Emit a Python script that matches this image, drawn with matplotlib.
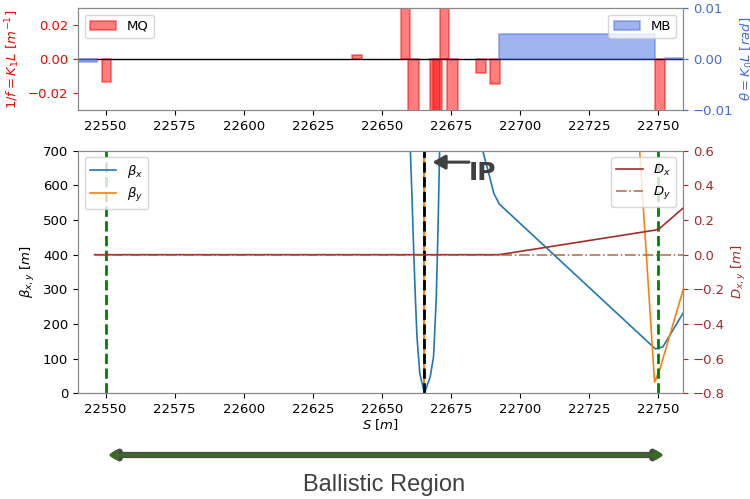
import matplotlib
matplotlib.use('Agg')
import matplotlib.pyplot as plt
from matplotlib.patches import FancyArrowPatch

# quadrupoles: start, length, strength (1/f)
mq_s = [22548.6, 22639.2, 22656.9, 22659.6, 22667.5, 22668.6, 22671.2, 22673.6, 22684.2, 22689.3, 22748.8]
mq_l = [3.4, 3.6, 3.1, 4.0, 3.4, 3.2, 3.1, 3.8, 3.6, 3.6, 3.6]
mq_k = [-0.0134, 0.0025, 0.06, -0.06, -0.06, -0.06, 0.06, -0.06, -0.008, -0.0147, -0.06]

# dipoles: start, length, angle
mb_s = [22540.0, 22692.5, 22752.4]
mb_l = [6.8, 56.3, 6.9]
mb_k = [-0.0006, 0.0049, 0.0001]

# optics
bx_s = [22546.0, 22659.5, 22660.3, 22660.9, 22661.5, 22662.1, 22662.7, 22663.7, 22665.4,
        22667.5, 22668.7, 22669.7, 22670.3, 22670.9, 22678.0, 22686.5, 22688.7, 22690.5,
        22692.5, 22749.0, 22751.7, 22759.3]
bx = [3000, 900, 700, 567, 413, 279, 163, 58, 0,
      48, 106, 279, 471, 700, 1500, 700, 634, 577,
      546, 128, 134, 235]
by_s = [22546.0, 22660.0, 22665.3, 22670.5, 22692.5, 22748.7, 22750.6, 22759.3]
by = [40000, 40000, 0, 40000, 6984, 32, 69, 306]
d_s = [22546.0, 22692.5, 22749.0, 22750.6, 22759.3]
dx = [0.0, 0.0, 0.142, 0.152, 0.273]
dy = [0.0, 0.0, 0.0, 0.0, 0.0]

plt.rcParams['font.size'] = 9.5
fig = plt.figure(figsize=(7.5, 4.99), dpi=100)

# top: magnets
ax1 = fig.add_axes([0.104, 0.7796, 0.8067, 0.2044])
ax1.bar(mq_s, mq_k, width=mq_l, align='edge', color='red', alpha=0.5,
        edgecolor='red', linewidth=1.2, label='MQ')
ax1.axhline(0, color='k', lw=1)
ax1.set_ylim(-0.03, 0.03)
ax1.set_xlim(22540, 22759)
ax1.set_yticks([-0.02, 0.0, 0.02])
ax1.set_ylabel('$1/f = K_1L$ [$m^{-1}$]', color='red')
ax1.tick_params(axis='y', colors='red')
ax1.legend(loc='upper left', fontsize=9.5)

ax1b = ax1.twinx()
ax1b.bar(mb_s, mb_k, width=mb_l, align='edge', color='royalblue', alpha=0.5,
         edgecolor='royalblue', linewidth=1.2, label='MB')
ax1b.set_ylim(-0.01, 0.01)
ax1b.set_yticks([-0.01, 0.0, 0.01])
ax1b.set_ylabel(r'$\theta = K_0L$ [$rad$]', color='royalblue')
ax1b.tick_params(axis='y', colors='royalblue')
ax1b.legend(loc='upper right', fontsize=9.5)
for a in (ax1, ax1b):
    for sp in a.spines.values():
        sp.set_color('#888888')

# bottom: optics
ax2 = fig.add_axes([0.104, 0.2118, 0.8067, 0.4862])
ax2.plot(bx_s, bx, color='tab:blue', lw=1.2, label=r'$\beta_x$')
ax2.plot(by_s, by, color='tab:orange', lw=1.2, label=r'$\beta_y$')
ax2.axvline(22550, color='green', ls='--', lw=2)
ax2.axvline(22750, color='green', ls='--', lw=2)
ax2.axvline(22665.3, color='k', ls='--', lw=2)
ax2.set_xlim(22540, 22759)
ax2.set_ylim(0, 700)
ax2.set_xlabel('$S$ [$m$]', labelpad=1)
ax2.set_ylabel(r'$\beta_{x,y}$ [$m$]')
ax2.legend(loc='upper left', fontsize=9.5)
ax2.text(22681.5, 636, 'IP', fontsize=18, fontweight='bold', color='#404040', va='center')
ax2.annotate('', xy=(22668.3, 667), xytext=(22681.5, 667),
             arrowprops=dict(arrowstyle='-|>,head_width=0.45,head_length=0.8',
                             color='#404040', lw=2.2, shrinkA=0, shrinkB=0))

ax2b = ax2.twinx()
ax2b.plot(d_s, dx, color='brown', lw=1.2, label='$D_x$')
ax2b.plot(d_s, dy, color='sienna', ls='-.', lw=1.2, alpha=0.8, label='$D_y$')
ax2b.set_ylim(-0.8, 0.6)
ax2b.set_ylabel('$D_{x,y}$ [$m$]', color='brown')
ax2b.tick_params(axis='y', colors='brown')
ax2b.legend(loc='upper right', fontsize=9.5)
for a in (ax2, ax2b):
    for sp in a.spines.values():
        sp.set_color('#888888')

# ballistic region arrow
for col, w in (('#4a4a4a', 4.5), ('#3a6b24', 2.5)):
    arr = FancyArrowPatch((108 / 750, 1 - 455 / 499), (664 / 750, 1 - 455 / 499),
                          transform=fig.transFigure, arrowstyle='<|-|>,head_width=0.12,head_length=0.2',
                          mutation_scale=20, color=col, lw=w, shrinkA=0, shrinkB=0)
    fig.add_artist(arr)
fig.text(384 / 750, 1 - 485 / 499, 'Ballistic Region', ha='center', va='center',
         fontsize=17, color='#404040', family='Liberation Sans')

fig.savefig('out.png', dpi=100)
